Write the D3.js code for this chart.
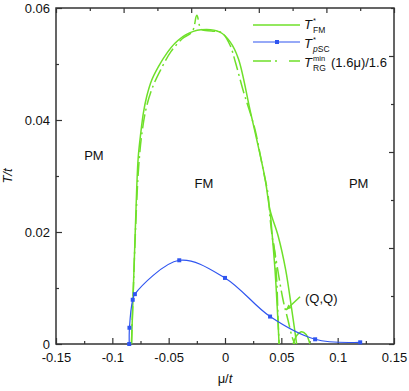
<!DOCTYPE html>
<html>
<head>
<meta charset="utf-8">
<script src="https://cdn.jsdelivr.net/npm/d3@7"></script>
<style>
  body { margin: 0; background: #fff; }
  text { font-family: "Liberation Sans", Arial, sans-serif; fill: #111; }
</style>
</head>
<body>
<div id="chart"></div>
<script>
// T*_FM (solid green), main dome [mu, T]
const fmMain = [
  [-0.083, 0], [-0.0805, 0.015], [-0.0784, 0.0276], [-0.077, 0.0334],
  [-0.0748, 0.0376], [-0.0725, 0.0412], [-0.0695, 0.0442], [-0.0651, 0.0471],
  [-0.0592, 0.0495], [-0.0517, 0.0519], [-0.0444, 0.0537], [-0.035, 0.0552],
  [-0.0214, 0.0561], [-0.0045, 0.0557], [0.0044, 0.054], [0.0118, 0.051],
  [0.0222, 0.0418], [0.0355, 0.0296], [0.040, 0.0239], [0.0473, 0.0192],
  [0.0539, 0.0132], [0.059, 0.0065], [0.0636, 0]
];
// second solid branch going straight down
const fmBranch = [[0.040, 0.0239], [0.0444, 0.0132], [0.0465, 0.006], [0.048, 0]];
// small solid loop near the axis
const fmLoop = [[0.0604, 0], [0.064, 0.0016], [0.068, 0.0022], [0.072, 0.0017], [0.0754, 0]];

// T^min_RG (1.6 mu)/1.6 (dash-dot green)
const rgMain = [
  [-0.083, 0], [-0.0795, 0.02], [-0.0765, 0.032], [-0.0735, 0.038],
  [-0.0695, 0.0425], [-0.064, 0.046], [-0.057, 0.049], [-0.048, 0.0522],
  [-0.038, 0.0545], [-0.029, 0.0558], [-0.025, 0.0587], [-0.021, 0.0562],
  [-0.012, 0.0559], [-0.003, 0.0556], [0.0044, 0.0534], [0.009, 0.0505],
  [0.0165, 0.045], [0.022, 0.0415], [0.027, 0.038], [0.032, 0.033],
  [0.035, 0.030], [0.038, 0.027], [0.040, 0.0225], [0.042, 0.019],
  [0.044, 0.0165], [0.046, 0.011], [0.047, 0.005], [0.048, 0]
];
const rgBranch = [[0.043, 0.018], [0.047, 0.013], [0.0515, 0.0079], [0.056, 0.0042], [0.0595, 0.0013], [0.062, 0]];

// T*_pSC (blue with markers)
const pscPoints = [
  [-0.085, 0], [-0.0848, 0.0029], [-0.0819, 0.0079], [-0.080, 0.0089],
  [-0.0406, 0.01495], [0.0, 0.0118], [0.040, 0.0049], [0.080, 0.00084], [0.120, 0.0003]
];

// annotation arrow (Q,Q): from -> to
const qqArrow = [[0.0666, 0.00845], [0.0541, 0.00607]];

const regionLabels = [
  { text: "PM", mu: -0.125, t: 0.0328 },
  { text: "FM", mu: -0.027, t: 0.0278 },
  { text: "PM", mu: 0.110, t: 0.0278 }
];

const xMajor = [-0.15, -0.1, -0.05, 0, 0.05, 0.1, 0.15];
const xMinor = [-0.125, -0.075, -0.025, 0.025, 0.075, 0.125];
const yMajor = [0, 0.02, 0.04, 0.06];
const yMinor = [0.01, 0.03, 0.05];

const W = 409, H = 391;
const green = "#6fe02a", blue = "#2f55f0", axisColor = "#333";

const x = d3.scaleLinear().domain([-0.15, 0.15]).range([56, 394]);
const y = d3.scaleLinear().domain([0, 0.06]).range([344, 8]);

const svg = d3.select("#chart").append("svg").attr("width", W).attr("height", H);

const fmt = (d) => (d === 0 ? "0" : String(+d.toFixed(2)));

// bottom axis
svg.append("g").attr("transform", "translate(0,344)")
  .call(d3.axisBottom(x).tickValues(xMajor).tickFormat(fmt).tickSizeInner(-6).tickSizeOuter(0).tickPadding(9));
svg.append("g").attr("transform", "translate(0,344)")
  .call(d3.axisBottom(x).tickValues(xMinor).tickFormat("").tickSizeInner(-3).tickSizeOuter(0));

// left axis
svg.append("g").attr("transform", "translate(56,0)")
  .call(d3.axisLeft(y).tickValues(yMajor).tickFormat(fmt).tickSizeInner(-6).tickSizeOuter(0).tickPadding(6));
svg.append("g").attr("transform", "translate(56,0)")
  .call(d3.axisLeft(y).tickValues(yMinor).tickFormat("").tickSizeInner(-3).tickSizeOuter(0));

// top axis: ticks every 0.03
const topTicks = d3.range(11).map((k) => -0.15 + 0.03 * k);
svg.append("g").attr("transform", "translate(0,8)")
  .call(d3.axisTop(x).tickValues(topTicks.filter((d, k) => k % 2 === 0)).tickFormat("").tickSizeInner(-5).tickSizeOuter(0));
svg.append("g").attr("transform", "translate(0,8)")
  .call(d3.axisTop(x).tickValues(topTicks.filter((d, k) => k % 2 === 1)).tickFormat("").tickSizeInner(-3).tickSizeOuter(0));

// right axis: ticks every 0.06/7
const rightTicks = d3.range(8).map((k) => 0.06 * k / 7);
svg.append("g").attr("transform", "translate(394,0)")
  .call(d3.axisRight(y).tickValues(rightTicks.filter((d, k) => k % 2 === 0)).tickFormat("").tickSizeInner(-5).tickSizeOuter(0));
svg.append("g").attr("transform", "translate(394,0)")
  .call(d3.axisRight(y).tickValues(rightTicks.filter((d, k) => k % 2 === 1)).tickFormat("").tickSizeInner(-3).tickSizeOuter(0));

svg.selectAll(".domain").remove();
svg.selectAll(".tick line").attr("stroke", axisColor).attr("stroke-width", 1.2);
svg.selectAll(".tick text").style("font-size", "13px").style("font-family", "Liberation Sans, Arial, sans-serif").attr("fill", "#111");

// frame
svg.append("rect")
  .attr("x", x(-0.15)).attr("y", y(0.06))
  .attr("width", x(0.15) - x(-0.15)).attr("height", y(0) - y(0.06))
  .attr("fill", "none").attr("stroke", axisColor).attr("stroke-width", 1.5);

// axis titles
svg.append("text").attr("transform", "translate(12,176) rotate(-90)")
  .attr("text-anchor", "middle").style("font-size", "13px").style("font-style", "italic")
  .text("T/t");
const xt = svg.append("text").attr("x", x(0)).attr("y", 383)
  .attr("text-anchor", "middle").style("font-size", "13px");
xt.append("tspan").text("μ/");
xt.append("tspan").style("font-style", "italic").text("t");

// curves
const line = d3.line().x((d) => x(d[0])).y((d) => y(d[1])).curve(d3.curveCatmullRom.alpha(0.5));
const dashDot = "14,4,2,4";

const plot = svg.append("g");
[fmMain, fmBranch, fmLoop].forEach((data) => {
  plot.append("path").datum(data).attr("d", line)
    .attr("fill", "none").attr("stroke", green).attr("stroke-width", 1.5);
});
[rgMain, rgBranch].forEach((data) => {
  plot.append("path").datum(data).attr("d", line)
    .attr("fill", "none").attr("stroke", green).attr("stroke-width", 1.5)
    .attr("stroke-dasharray", dashDot);
});

plot.append("path").datum(pscPoints).attr("d", line)
  .attr("fill", "none").attr("stroke", blue).attr("stroke-width", 1.2);
plot.selectAll(".psc").data(pscPoints).enter().append("rect")
  .attr("class", "psc")
  .attr("x", (d) => x(d[0]) - 2).attr("y", (d) => y(d[1]) - 2)
  .attr("width", 4).attr("height", 4).attr("fill", blue);

// region labels
svg.selectAll(".region").data(regionLabels).enter().append("text")
  .attr("class", "region")
  .attr("x", (d) => x(d.mu)).attr("y", (d) => y(d.t))
  .style("font-size", "13px")
  .text((d) => d.text);

// (Q,Q) annotation
const ax0 = x(qqArrow[0][0]), ay0 = y(qqArrow[0][1]);
const ax1 = x(qqArrow[1][0]), ay1 = y(qqArrow[1][1]);
svg.append("line").attr("x1", ax0).attr("y1", ay0).attr("x2", ax1).attr("y2", ay1)
  .attr("stroke", green).attr("stroke-width", 1.5);
const ang = Math.atan2(ay1 - ay0, ax1 - ax0);
const ah = 6;
svg.append("path")
  .attr("d", "M" + ax1 + "," + ay1 +
    "L" + (ax1 - ah * Math.cos(ang - 0.4)) + "," + (ay1 - ah * Math.sin(ang - 0.4)) +
    "L" + (ax1 - ah * Math.cos(ang + 0.4)) + "," + (ay1 - ah * Math.sin(ang + 0.4)) + "Z")
  .attr("fill", green);
svg.append("text").attr("x", ax0 + 5).attr("y", ay0 + 6).style("font-size", "13px").text("(Q,Q)");

// legend
const lg = svg.append("g");
lg.append("line").attr("x1", 253).attr("x2", 300).attr("y1", 25).attr("y2", 25)
  .attr("stroke", green).attr("stroke-width", 1.5);
lg.append("line").attr("x1", 253).attr("x2", 300).attr("y1", 42).attr("y2", 42)
  .attr("stroke", blue).attr("stroke-width", 1.2);
lg.append("rect").attr("x", 275).attr("y", 40).attr("width", 4).attr("height", 4).attr("fill", blue);
lg.append("line").attr("x1", 253).attr("x2", 300).attr("y1", 61).attr("y2", 61)
  .attr("stroke", green).attr("stroke-width", 1.5).attr("stroke-dasharray", "18,4,2,12");

// T with stacked super/subscript, each part its own text element
function legendLabel(yb, sup, sub, rest, subItalicFirst) {
  lg.append("text").attr("x", 304).attr("y", yb)
    .style("font-size", "13px").style("font-style", "italic").text("T");
  lg.append("text").attr("x", 313).attr("y", yb - 6.5)
    .style("font-size", "7.5px").text(sup);
  const s = lg.append("text").attr("x", 313).attr("y", yb + 3.5).style("font-size", "8.5px");
  if (subItalicFirst) {
    s.append("tspan").style("font-style", "italic").text(sub[0]);
    s.append("tspan").text(sub.slice(1));
  } else {
    s.text(sub);
  }
  if (rest) lg.append("text").attr("x", 331).attr("y", yb).style("font-size", "13px").text(rest);
}
legendLabel(29, "*", "FM", null, false);
legendLabel(48, "*", "pSC", null, true);
legendLabel(67, "min", "RG", "(1.6μ)/1.6", false);
</script>
</body>
</html>
